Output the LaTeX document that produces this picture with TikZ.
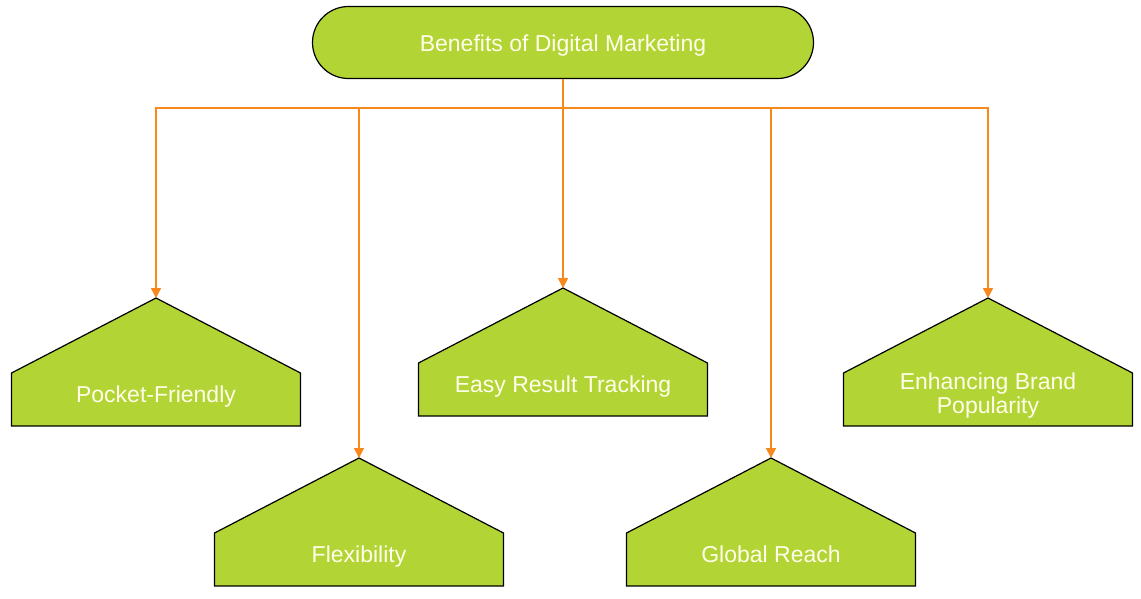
\documentclass[tikz,border=0pt]{standalone}
\usepackage{fontspec}
\setmainfont{Liberation Sans}
\usetikzlibrary{arrows.meta}
\definecolor{limefill}{RGB}{178,212,52}
\definecolor{connorange}{RGB}{247,136,28}
\definecolor{txtcream}{RGB}{255,255,235}
\newcommand\drawhouse[3]{%
  \draw[housebox] (#2,#3) -- ++(144.5,75) -- ++(0,53) -- ++(-289,0) -- ++(0,-53) -- cycle;
  \coordinate (#1) at (#2,#3);
}
\begin{document}
\begin{tikzpicture}[x=1pt,y=-1pt,
  housebox/.style={fill=limefill,draw=black,line width=1.2pt,line join=miter},
  lbl/.style={text=txtcream,font=\fontsize{23}{24.5}\selectfont,align=center,anchor=base,inner sep=0pt},
  link/.style={draw=connorange,line width=1.5pt},
  arr/.style={link,-{Triangle[width=10pt,length=10pt]}}]
\useasboundingbox (0,0) rectangle (1141,598);
\fill[white] (0,0) rectangle (1141,598);
% root
\node[draw=black,fill=limefill,line width=1.2pt,rounded corners=36pt,
      minimum width=501pt,minimum height=72pt,inner sep=0pt] (root) at (563,42.5) {};
\node[lbl] (roottext) at (563,51) {Benefits of Digital Marketing};
% houses
\drawhouse{p1}{156}{298}
\drawhouse{p2}{359}{458}
\drawhouse{p3}{563}{288}
\drawhouse{p4}{771}{458}
\drawhouse{p5}{988}{298}
\node[lbl] (t1) at (156,402) {Pocket-Friendly};
\node[lbl] (t2) at (359,562) {Flexibility};
\node[lbl] (t3) at (563,392) {Easy Result Tracking};
\node[lbl] (t4) at (771,562) {Global Reach};
\node[lbl] (t5) at (988,413.5) {Enhancing Brand\\Popularity};
% connectors
\coordinate (hub) at (563,108);
\draw[link] (root.south) -- (hub);
\draw[arr] (hub) -| (p1);
\draw[arr] (hub) -| (p2);
\draw[arr] (hub) -- (p3);
\draw[arr] (hub) -| (p4);
\draw[arr] (hub) -| (p5);
\end{tikzpicture}
\end{document}
